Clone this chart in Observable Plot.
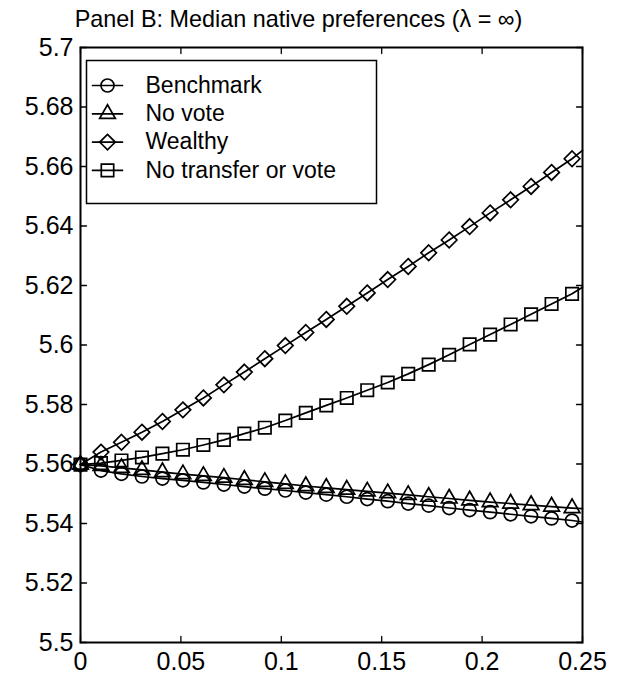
<!DOCTYPE html>
<html>
<head>
<meta charset="utf-8">
<script src="https://cdn.jsdelivr.net/npm/d3@7"></script>
<script src="https://cdn.jsdelivr.net/npm/@observablehq/plot@0.6"></script>
<style>
  html, body { margin: 0; padding: 0; background: #fff; }
  #chart svg { display: block; }
</style>
</head>
<body>
<div id="chart"></div>
<script>
// ---- data ----
const title = "Panel B: Median native preferences (λ = ∞)";
const xValues = [0, 0.0102, 0.0204, 0.0306, 0.0408, 0.051, 0.0612, 0.0714, 0.0816, 0.0918,
  0.102, 0.1122, 0.1224, 0.1326, 0.1428, 0.153, 0.1632, 0.1734, 0.1836, 0.1938,
  0.204, 0.2142, 0.2244, 0.2346, 0.2448];
const benchmark = [5.5598, 5.5578, 5.5567, 5.5558, 5.5551, 5.5545, 5.5538, 5.5531, 5.5524, 5.5517,
  5.5511, 5.5504, 5.5497, 5.549, 5.5482, 5.5475, 5.5467, 5.546, 5.5452, 5.5445,
  5.5438, 5.5431, 5.5424, 5.5417, 5.541];
const noVote = [5.5598, 5.5594, 5.5587, 5.558, 5.5573, 5.5566, 5.556, 5.5554, 5.5547, 5.554,
  5.5533, 5.5526, 5.552, 5.5514, 5.5508, 5.5502, 5.5496, 5.549, 5.5484, 5.5478,
  5.5472, 5.5467, 5.5462, 5.5457, 5.5452];
const wealthy = [5.5598, 5.564, 5.5673, 5.5707, 5.5743, 5.5782, 5.5822, 5.5866, 5.5909, 5.5954,
  5.5998, 5.6042, 5.6086, 5.613, 5.6175, 5.622, 5.6264, 5.631, 5.6353, 5.6398,
  5.6444, 5.6488, 5.6533, 5.658, 5.6626];
const noTransfer = [5.5598, 5.5603, 5.5612, 5.5622, 5.5635, 5.5648, 5.5664, 5.5681, 5.5702, 5.5722,
  5.5746, 5.5772, 5.5797, 5.5822, 5.5848, 5.5874, 5.5903, 5.5934, 5.5967, 5.6002,
  5.6035, 5.6069, 5.6103, 5.6138, 5.6172];
const xEnd = 0.25;
const endValues = [5.5405, 5.545, 5.6654, 5.6194];
const seriesNames = ["Benchmark", "No vote", "Wealthy", "No transfer or vote"];
const seriesSymbols = ["circle", "triangle", "diamond2", "square"];
const xTicks = [0, 0.05, 0.1, 0.15, 0.2, 0.25];
const yTicks = [5.5, 5.52, 5.54, 5.56, 5.58, 5.6, 5.62, 5.64, 5.66, 5.68, 5.7];
const xDomain = [0, 0.25];
const yDomain = [5.5, 5.7];

// ---- build ----
const seriesValues = [benchmark, noVote, wealthy, noTransfer];
const markerR = {circle: 6.5, triangle: 5.8, diamond2: 7, square: 7};
const tickShape = {draw(ctx, l) { ctx.moveTo(0, 0); ctx.lineTo(0, -l); }};
const FONT = "'Liberation Sans', Arial, Helvetica, sans-serif";
const TL = 6;
const SW = 1.7;

const marks = [];
// series
seriesValues.forEach((vals, s) => {
  const pts = vals.map((v, i) => ({x: xValues[i], y: v}));
  const linePts = [...pts, {x: xEnd, y: endValues[s]}];
  marks.push(Plot.line(linePts, {x: "x", y: "y", stroke: "black", strokeWidth: SW}));
  marks.push(Plot.dot(pts, {x: "x", y: "y", symbol: () => seriesSymbols[s], r: markerR[seriesSymbols[s]],
    stroke: "black", strokeWidth: SW, fill: "none"}));
});

// inward ticks on all four sides
marks.push(Plot.vector(yTicks, {x: () => xDomain[0], y: d => d, length: TL, rotate: 90, anchor: "start", shape: tickShape, stroke: "black", strokeWidth: 1.3}));
marks.push(Plot.vector(yTicks, {x: () => xDomain[1], y: d => d, length: TL, rotate: -90, anchor: "start", shape: tickShape, stroke: "black", strokeWidth: 1.3}));
marks.push(Plot.vector(xTicks, {x: d => d, y: () => yDomain[0], length: TL, rotate: 0, anchor: "start", shape: tickShape, stroke: "black", strokeWidth: 1.3}));
marks.push(Plot.vector(xTicks, {x: d => d, y: () => yDomain[1], length: TL, rotate: 180, anchor: "start", shape: tickShape, stroke: "black", strokeWidth: 1.3}));

// axes labels
const fmt = d => String(d);
marks.push(Plot.axisX({ticks: xTicks, tickFormat: fmt, tickSize: 0, tickPadding: 10, label: null, fontSize: 25}));
marks.push(Plot.axisY({ticks: yTicks, tickFormat: fmt, tickSize: 0, tickPadding: 7, label: null, fontSize: 25}));

// frame
marks.push(Plot.frame({stroke: "black", strokeWidth: 2}));

// legend
marks.push(Plot.frame({insetLeft: 6, insetTop: 13, insetRight: 206, insetBottom: 439, fill: "white", stroke: "black", strokeWidth: 1.5}));
seriesNames.forEach((name, i) => {
  const dy = 38 + 28.3 * i;
  marks.push(Plot.vector([name], {frameAnchor: "top-left", dx: 27, dy, length: 30, rotate: 90, anchor: "middle", shape: tickShape, stroke: "black", strokeWidth: SW}));
  marks.push(Plot.dot([name], {frameAnchor: "top-left", dx: 27, dy, symbol: () => seriesSymbols[i], r: markerR[seriesSymbols[i]], stroke: "black", strokeWidth: SW, fill: "none"}));
  marks.push(Plot.text([name], {frameAnchor: "top-left", lineAnchor: "middle", dx: 65, dy, text: d => d, textAnchor: "start", fontSize: 23, fill: "black"}));
});

// title
marks.push(Plot.text([title], {frameAnchor: "top", lineAnchor: "bottom", dx: -33, dy: -21, text: d => d, fontSize: 23.4, fill: "black"}));

const chart = Plot.plot({
  width: 626,
  height: 683,
  marginLeft: 80,
  marginRight: 44,
  marginTop: 47,
  marginBottom: 41,
  x: {domain: xDomain},
  y: {domain: yDomain},
  style: {fontFamily: FONT, color: "black", background: "white", overflow: "visible"},
  marks
});
document.getElementById("chart").appendChild(chart);
</script>
</body>
</html>
